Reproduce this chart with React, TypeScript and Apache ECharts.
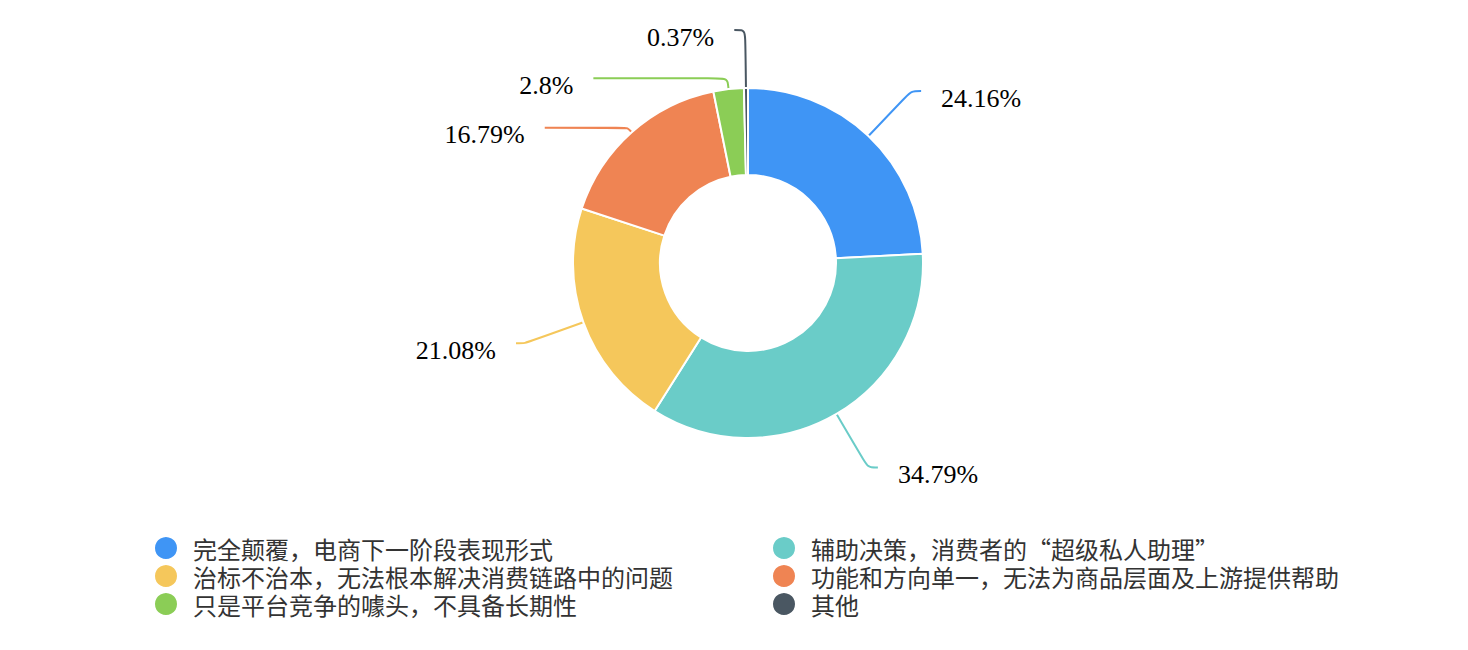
import { useEffect, useRef } from "react";
import * as echarts from "echarts";

const categories = [
  "完全颠覆，电商下一阶段表现形式",
  "辅助决策，消费者的“超级私人助理”",
  "治标不治本，无法根本解决消费链路中的问题",
  "功能和方向单一，无法为商品层面及上游提供帮助",
  "只是平台竞争的噱头，不具备长期性",
  "其他",
];
const shares = [24.16, 34.79, 21.08, 16.79, 2.8, 0.37];
const colors = ["#3f95f5", "#6accc8", "#f5c75b", "#ef8453", "#8bcd56", "#4a5762"];
// label line [length, length2] per slice
const lineLengths = [
  [62, 10],
  [62, 10],
  [62, 9],
  [6, 83],
  [11, 134],
  [58, 11],
];

export default function App() {
  const chartRef = useRef<HTMLDivElement>(null);

  useEffect(() => {
    if (!chartRef.current) return;
    const chart = echarts.init(chartRef.current, undefined, { renderer: "svg" });

    const legendBase = {
      orient: "vertical" as const,
      top: 530,
      icon: "circle",
      itemWidth: 24,
      itemHeight: 24,
      itemGap: 2,
      textStyle: {
        fontSize: 24,
        color: "#333",
        fontFamily: "Noto Sans CJK SC",
        padding: [0, 0, 0, 10],
      },
    };

    chart.setOption({
      animation: false,
      color: colors,
      legend: [
        { ...legendBase, left: 148, data: [categories[0], categories[2], categories[4]] },
        { ...legendBase, left: 766, data: [categories[1], categories[3], categories[5]] },
      ],
      series: [
        {
          type: "pie",
          center: [748, 263],
          radius: [88, 175],
          startAngle: 90,
          itemStyle: { borderColor: "#fff", borderWidth: 2 },
          label: {
            // blank first line pushes the value slightly below the line end
            formatter: (p: any) => "{g| }\n{v|" + p.value + "%}",
            distanceToLabelLine: 20,
            rich: {
              g: { fontSize: 10, lineHeight: 14 },
              v: {
                fontSize: 26,
                lineHeight: 30,
                fontFamily: "Liberation Serif",
                color: "#000",
              },
            },
          },
          labelLine: { smooth: true, lineStyle: { width: 2 } },
          data: categories.map((name, i) => ({
            name,
            value: shares[i],
            labelLine: { length: lineLengths[i][0], length2: lineLengths[i][1] },
          })),
        },
      ],
    });

    return () => chart.dispose();
  }, []);

  return (
    <div
      ref={chartRef}
      style={{ position: "absolute", left: 0, top: 0, width: 1468, height: 650 }}
    />
  );
}
